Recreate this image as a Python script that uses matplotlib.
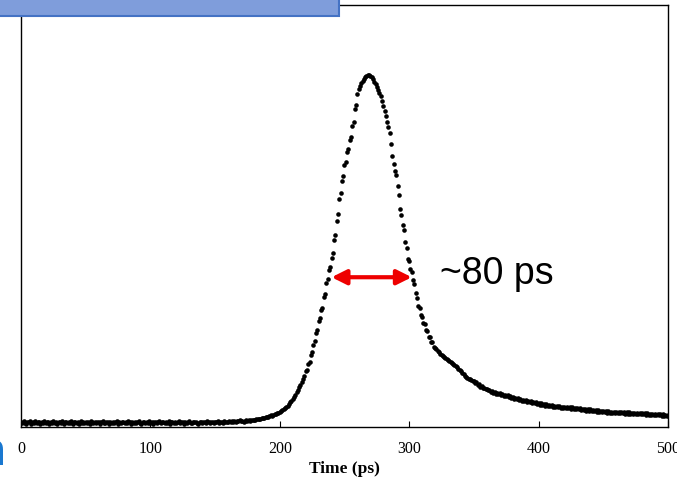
import numpy as np
import matplotlib
matplotlib.use("Agg")
import matplotlib.pyplot as plt
from matplotlib.patches import Rectangle

# time axis (ps), one sample per ps
time_ps = np.arange(0, 501)

# counts (peak ~ 1000)
counts = [
    14, 11, 16, 12, 9, 15, 13, 17, 10, 14,
    12, 16, 11, 13, 15, 9, 14, 12, 17, 11,
    13, 15, 10, 14, 12, 16, 11, 13, 9, 15,
    14, 12, 16, 10, 13, 15, 11, 14, 12, 17,
    10, 13, 15, 12, 14, 9, 16, 12, 13, 11,
    15, 12, 14, 10, 16, 13, 11, 14, 12, 15,
    13, 10, 14, 16, 12, 11, 15, 13, 9, 14,
    12, 15, 11, 13, 16, 10, 14, 12, 15, 13,
    11, 14, 12, 16, 13, 10, 15, 12, 14, 11,
    13, 16, 12, 10, 14, 15, 11, 13, 12, 16,
    12, 14, 10, 15, 13, 11, 14, 16, 12, 13,
    15, 11, 13, 12, 16, 10, 14, 13, 11, 15,
    12, 14, 16, 11, 13, 15, 10, 14, 12, 13,
    16, 12, 11, 14, 13, 15, 12, 10, 14, 13,
    12, 15, 13, 11, 16, 14, 12, 13, 15, 11,
    14, 13, 16, 12, 15, 14, 11, 16, 13, 15,
    14, 17, 13, 16, 15, 18, 14, 17, 16, 19,
    16, 18, 15, 17, 19, 17, 20, 18, 21, 19,
    21, 20, 23, 22, 24, 23, 26, 25, 27, 28,
    29, 28, 31, 33, 32, 35, 36, 38, 40, 41,
    43, 46, 48, 52, 55, 58, 61, 66, 70, 75,
    80, 86, 92, 99, 106, 113, 120, 128, 137, 146,
    158, 161, 179, 185, 205, 212, 234, 244, 267, 276,
    301, 309, 334, 339, 369, 379, 410, 421, 446, 454,
    480, 494, 531, 546, 586, 606, 648, 665, 700, 713,
    745, 753, 783, 790, 817, 825, 855, 867, 903, 917,
    948, 960, 969, 977, 984, 990, 995, 998, 1000, 1000,
    998, 994, 989, 982, 975, 966, 958, 950, 940, 928,
    914, 900, 884, 868, 852, 835, 805, 770, 748, 728,
    716, 684, 659, 621, 604, 574, 559, 526, 509, 479,
    472, 448, 442, 418, 407, 381, 368, 344, 338, 318,
    314, 296, 294, 275, 274, 257, 257, 242, 243, 228,
    226, 221, 217, 213, 209, 206, 203, 200, 197, 194,
    191, 188, 186, 183, 180, 177, 174, 170, 166, 162,
    158, 154, 150, 146, 143, 140, 138, 136, 134, 132,
    131, 126, 127, 120, 121, 114, 116, 110, 112, 107,
    108, 104, 106, 101, 103, 98, 101, 95, 98, 93,
    96, 91, 94, 89, 92, 87, 90, 85, 88, 83,
    86, 81, 84, 79, 82, 77, 80, 75, 78, 73,
    76, 71, 74, 70, 73, 68, 71, 67, 70, 65,
    69, 64, 67, 63, 66, 61, 65, 60, 64, 59,
    62, 58, 61, 57, 60, 56, 59, 55, 58, 54,
    58, 53, 57, 53, 56, 52, 56, 51, 55, 50,
    54, 50, 53, 49, 52, 48, 52, 47, 51, 46,
    50, 46, 49, 45, 48, 44, 48, 43, 47, 42,
    46, 42, 45, 41, 45, 41, 44, 40, 44, 40,
    44, 40, 43, 39, 43, 39, 42, 38, 42, 38,
    42, 38, 41, 37, 41, 37, 41, 36, 40, 36,
    40, 36, 39, 35, 39, 35, 38, 34, 38, 34,
    37, 33, 37, 33, 36, 32, 36, 32, 35, 31, 34,
]

x_ticks = [0, 100, 200, 300, 400, 500]
fwhm_start, fwhm_end, fwhm_level = 240, 302, 426
fwhm_label = "~80 ps"

fig = plt.figure(figsize=(6.77, 4.82), dpi=100)
ax = fig.add_axes([0.031, 0.114, 0.9557, 0.8756])

ax.plot(time_ps, counts, linestyle="none", marker="o", ms=3.3,
        mfc="black", mec="none")

ax.set_xlim(0, 500)
ax.set_ylim(0, 1200)
ax.set_xticks(x_ticks)
ax.set_xticklabels([str(t) for t in x_ticks], family="Liberation Serif",
                   fontsize=11.5)
ax.set_yticks([])
ax.tick_params(axis="x", direction="in", length=4, pad=10)
for s in ax.spines.values():
    s.set_linewidth(1.0)
    s.set_color("black")

ax.set_xlabel("Time (ps)", family="Liberation Serif", fontweight="bold",
              fontsize=12.5, labelpad=3)

# FWHM arrow + label
ax.annotate("", xy=(fwhm_start, fwhm_level), xytext=(fwhm_end, fwhm_level),
            arrowprops=dict(arrowstyle="<|-|>", color="#ee0000", lw=3,
                            mutation_scale=22, shrinkA=0, shrinkB=0))
ax.text(324, fwhm_level + 10, fwhm_label, family="Liberation Sans",
        fontsize=27, va="center", ha="left")

# slide leftovers: blue bar on top and a cut letter at the left edge
fig.add_artist(Rectangle((-0.01, 1 - 16 / 482), 339 / 677 + 0.01, 0.05,
                         transform=fig.transFigure, facecolor="#7f9ddb",
                         edgecolor="#4472c4", lw=1.5, zorder=10))
fig.text(6 / 677, 1 - 465 / 482, "n", color="#1a78d0", fontsize=34,
         fontweight="bold", family="Liberation Sans", ha="right",
         va="baseline")

fig.savefig("out.png", dpi=100)
